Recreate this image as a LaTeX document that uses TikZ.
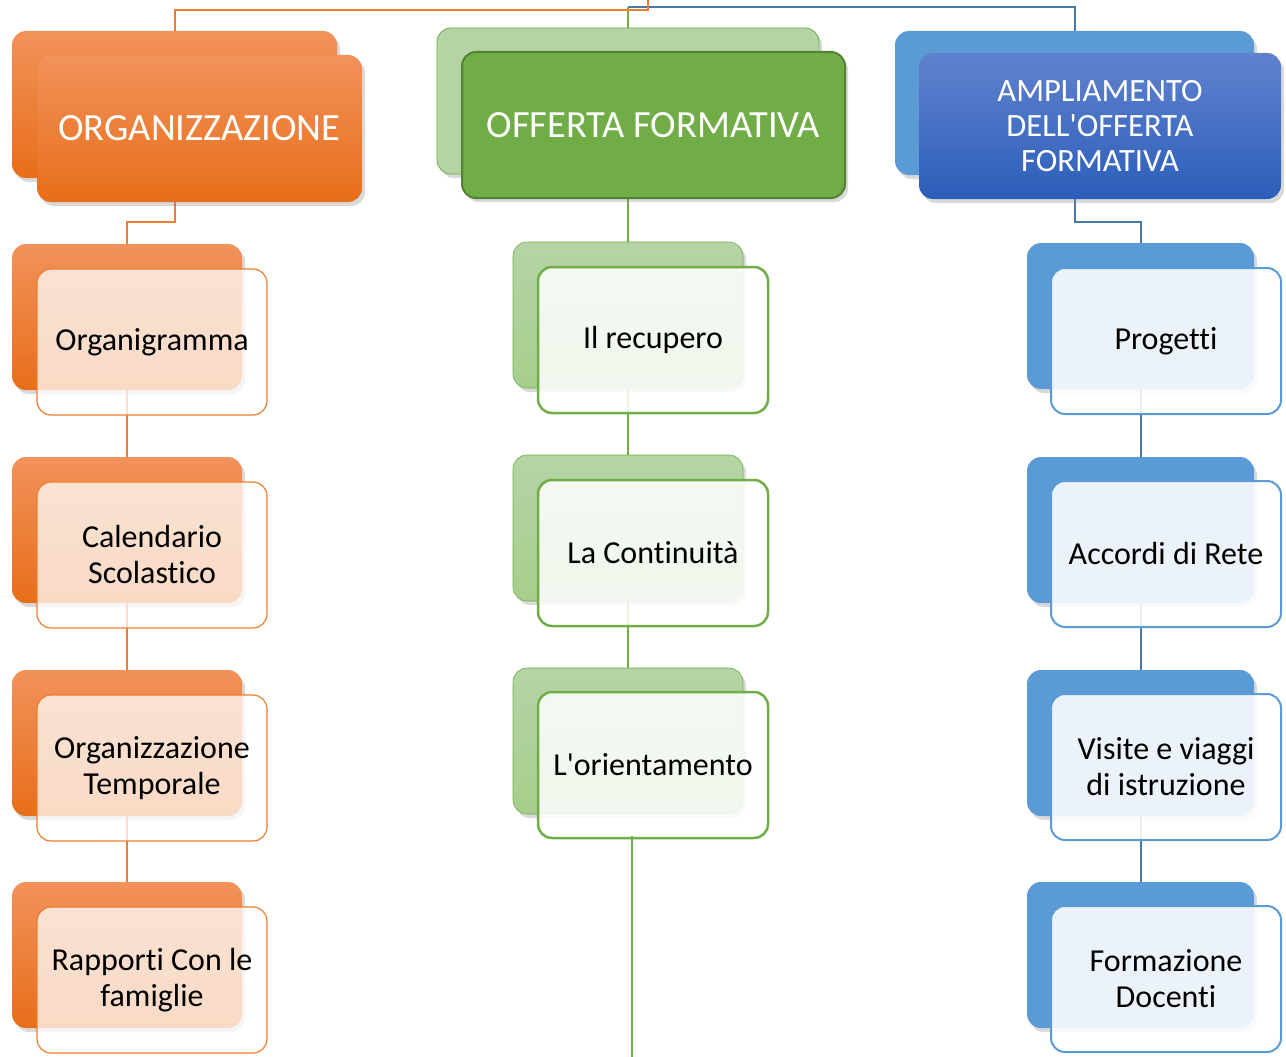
\documentclass[tikz,border=0pt]{standalone}
\usepackage{fontspec}
\setmainfont{Carlito}[Ligatures=NoCommon,RawFeature={-liga;-clig;-calt;-dlig}]
\usetikzlibrary{shadows,backgrounds}

\definecolor{orTop}{RGB}{242,146,90}
\definecolor{orBot}{RGB}{231,110,26}
\definecolor{orLine}{RGB}{237,125,49}
\definecolor{grLight}{RGB}{181,212,166}
\definecolor{grMid}{RGB}{166,206,140}
\definecolor{grMain}{RGB}{112,173,71}
\definecolor{grDark}{RGB}{84,130,53}
\definecolor{blLight}{RGB}{91,155,213}
\definecolor{blTop}{RGB}{96,130,206}
\definecolor{blBot}{RGB}{44,94,186}
\definecolor{blLine}{RGB}{70,120,170}

\begin{document}
\begin{tikzpicture}[x=1pt,y=-1pt,
    itembox/.style={rounded corners=14pt,inner sep=0pt,minimum width=230pt,minimum height=146pt,align=center},
    hdrtext/.style={text=white,font=\fontsize{38.5}{44}\selectfont},
    itemtext/.style={font=\fontsize{32}{36}\selectfont},
    boxshadow/.style={drop shadow={opacity=0.3,shadow xshift=3pt,shadow yshift=-4pt}},
    % header boxes
    ohback/.style={itembox,boxshadow,top color=orTop,bottom color=orBot,minimum width=325pt,minimum height=147pt},
    ohfront/.style={ohback,hdrtext},
    ghback/.style={itembox,boxshadow,fill=grLight,draw=grMain,line width=0.8pt,minimum width=382pt},
    ghfront/.style={itembox,boxshadow,fill=grMain,draw=grDark,line width=2pt,minimum width=383pt,hdrtext},
    bhback/.style={itembox,boxshadow,fill=blLight,minimum width=359pt,minimum height=144pt},
    bhfront/.style={itembox,boxshadow,top color=blTop,bottom color=blBot,minimum width=362pt,hdrtext},
    % item boxes
    oback/.style={itembox,boxshadow,top color=orTop,bottom color=orBot},
    ofront/.style={itembox,draw=orLine,line width=1.2pt,fill=white,fill opacity=0.75,text opacity=1,itemtext},
    gback/.style={itembox,boxshadow,top color=grLight,bottom color=grMid,draw=grMain,line width=0.6pt},
    gfront/.style={itembox,draw=grMain,line width=2.5pt,fill=white,fill opacity=0.85,text opacity=1,itemtext},
    pback/.style={itembox,boxshadow,fill=blLight,minimum width=227pt},
    pfront/.style={itembox,draw=blLight,line width=2pt,fill=white,fill opacity=0.88,text opacity=1,itemtext},
    % connectors
    oline/.style={draw=orLine,line width=2pt},
    gline/.style={draw=grMain,line width=2pt},
    bline/.style={draw=blLine,line width=2pt},
]
\useasboundingbox (0,0) rectangle (1286,1057);

% headers
\node[ohback] (ohb) at (174.5,104.5) {};
\node[ohfront] (ohf) at (199.5,128.5) {ORGANIZZAZIONE};
\node[ghback] (ghb) at (628,101) {};
\node[ghfront] (ghf) at (653.5,125) {OFFERTA FORMATIVA};
\node[bhback] (bhb) at (1074.5,103) {};
\node[bhfront,font=\fontsize{32.5}{35}\selectfont] (bhf) at (1100,126) {AMPLIAMENTO\\DELL\textquotesingle OFFERTA\\FORMATIVA};

% organizzazione
\node[oback] (o1b) at (127,317) {};
\node[ofront] (o1f) at (152,342) {Organigramma};
\node[oback] (o2b) at (127,530) {};
\node[ofront] (o2f) at (152,555) {Calendario\\Scolastico};
\node[oback] (o3b) at (127,743) {};
\node[ofront] (o3f) at (152,768) {Organizzazione\\Temporale};
\node[oback] (o4b) at (127,955) {};
\node[ofront] (o4f) at (152,980) {Rapporti Con le\\famiglie};

% offerta formativa
\node[gback] (g1b) at (628,315) {};
\node[gfront] (g1f) at (653,340) {Il recupero};
\node[gback] (g2b) at (628,528) {};
\node[gfront] (g2f) at (653,553) {La Continuità};
\node[gback] (g3b) at (628,741) {};
\node[gfront] (g3f) at (653,765) {L\textquotesingle orientamento};

% ampliamento
\node[pback] (p1b) at (1140.5,316) {};
\node[pfront] (p1f) at (1166,341) {Progetti};
\node[pback] (p2b) at (1140.5,530) {};
\node[pfront] (p2f) at (1166,554) {Accordi di Rete};
\node[pback] (p3b) at (1140.5,743) {};
\node[pfront] (p3f) at (1166,767) {Visite e viaggi\\di istruzione};
\node[pback] (p4b) at (1140.5,955) {};
\node[pfront] (p4f) at (1166,979) {Formazione\\Docenti};

\coordinate (root) at (648,0);
\coordinate (fork) at (628,7);
\coordinate (gend) at (632,1057);

\begin{scope}[on background layer]
    \draw[bline] (fork) -| (bhb.north);
    \draw[gline] (fork) -- (ghb.north);
    \draw[oline] (root) -- ++(0,10) -| (ohb.north);

    \draw[oline] (ohb.center |- ohf.south) -- ++(0,20) -| (o1b.north);
    \draw[gline] (ghb) -- (g1b);
    \draw[bline] (bhb.center |- bhf.south) -- ++(0,23) -| (p1b.north);

    \draw[oline] (o1b) -- (o2b);
    \draw[oline] (o2b) -- (o3b);
    \draw[oline] (o3b) -- (o4b);
    \draw[gline] (g1b) -- (g2b);
    \draw[gline] (g2b) -- (g3b);
    \draw[bline] (p1b) -- (p2b);
    \draw[bline] (p2b) -- (p3b);
    \draw[bline] (p3b) -- (p4b);
\end{scope}
\draw[gline] (gend |- g3f.south) ++(0,-3) -- (gend);
\end{tikzpicture}
\end{document}
